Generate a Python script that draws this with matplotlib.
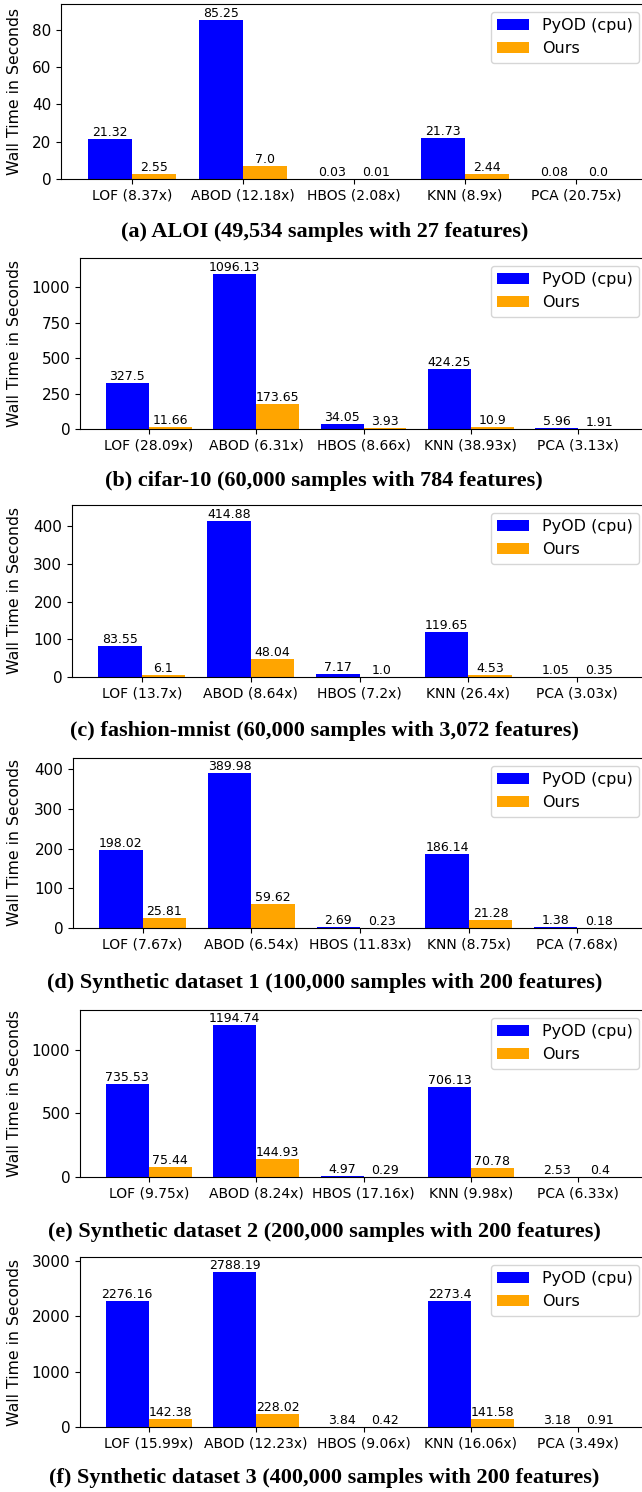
import matplotlib
matplotlib.use('Agg')
import matplotlib.pyplot as plt
import numpy as np

methods = ['LOF', 'ABOD', 'HBOS', 'KNN', 'PCA']

captions = [
    '(a) ALOI (49,534 samples with 27 features)',
    '(b) cifar-10 (60,000 samples with 784 features)',
    '(c) fashion-mnist (60,000 samples with 3,072 features)',
    '(d) Synthetic dataset 1 (100,000 samples with 200 features)',
    '(e) Synthetic dataset 2 (200,000 samples with 200 features)',
    '(f) Synthetic dataset 3 (400,000 samples with 200 features)',
]

# wall time (s) per dataset
pyod_a = [21.32, 85.25, 0.03, 21.73, 0.08]
ours_a = [2.55, 7.0, 0.01, 2.44, 0.0]
speed_a = ['8.37', '12.18', '2.08', '8.9', '20.75']

pyod_b = [327.5, 1096.13, 34.05, 424.25, 5.96]
ours_b = [11.66, 173.65, 3.93, 10.9, 1.91]
speed_b = ['28.09', '6.31', '8.66', '38.93', '3.13']

pyod_c = [83.55, 414.88, 7.17, 119.65, 1.05]
ours_c = [6.1, 48.04, 1.0, 4.53, 0.35]
speed_c = ['13.7', '8.64', '7.2', '26.4', '3.03']

pyod_d = [198.02, 389.98, 2.69, 186.14, 1.38]
ours_d = [25.81, 59.62, 0.23, 21.28, 0.18]
speed_d = ['7.67', '6.54', '11.83', '8.75', '7.68']

pyod_e = [735.53, 1194.74, 4.97, 706.13, 2.53]
ours_e = [75.44, 144.93, 0.29, 70.78, 0.4]
speed_e = ['9.75', '8.24', '17.16', '9.98', '6.33']

pyod_f = [2276.16, 2788.19, 3.84, 2273.4, 3.18]
ours_f = [142.38, 228.02, 0.42, 141.58, 0.91]
speed_f = ['15.99', '12.23', '9.06', '16.06', '3.49']

panels = [
    (pyod_a, ours_a, speed_a),
    (pyod_b, ours_b, speed_b),
    (pyod_c, ours_c, speed_c),
    (pyod_d, ours_d, speed_d),
    (pyod_e, ours_e, speed_e),
    (pyod_f, ours_f, speed_f),
]

W, H = 642, 1492
fig = plt.figure(figsize=(W / 100, H / 100), dpi=100)

# pixel layout of each panel: left, top, bottom, caption y
layout = [
    (61, 4, 179, 232),
    (80, 258, 429, 481),
    (72, 505, 677, 731),
    (73, 758, 928, 983),
    (80, 1010, 1177, 1232),
    (80, 1257, 1427, 1478),
]
right_px = 647

x = np.arange(len(methods))
width = 0.4

for (pyod, ours, speed), (lp, tp, bp, cp), cap in zip(panels, layout, captions):
    ax = fig.add_axes([lp / W, 1 - bp / H, (right_px - lp) / W, (bp - tp) / H])
    b1 = ax.bar(x - width / 2, pyod, width, color='blue', label='PyOD (cpu)')
    b2 = ax.bar(x + width / 2, ours, width, color='orange', label='Ours')
    ax.bar_label(b1, labels=[str(v) for v in pyod], fontsize=9)
    ax.bar_label(b2, labels=[str(v) for v in ours], fontsize=9)
    ax.set_ylim(0, max(pyod) * 1.1)
    ax.set_xticks(x)
    ax.set_xticklabels(['%s (%sx)' % (m, s) for m, s in zip(methods, speed)], fontsize=10)
    ax.tick_params(axis='y', labelsize=11)
    ax.set_ylabel('Wall Time in Seconds', fontsize=11.3)
    ax.yaxis.set_label_coords(22 / W, 1 - (tp + bp) / 2 / H, transform=fig.transFigure)
    ax.legend(loc='upper right', fontsize=11.5)
    fig.text(0.505, 1 - cp / H, cap, ha='center', va='center',
             family='Liberation Serif', fontweight='bold', fontsize=16)

plt.savefig('out.png', dpi=100)
